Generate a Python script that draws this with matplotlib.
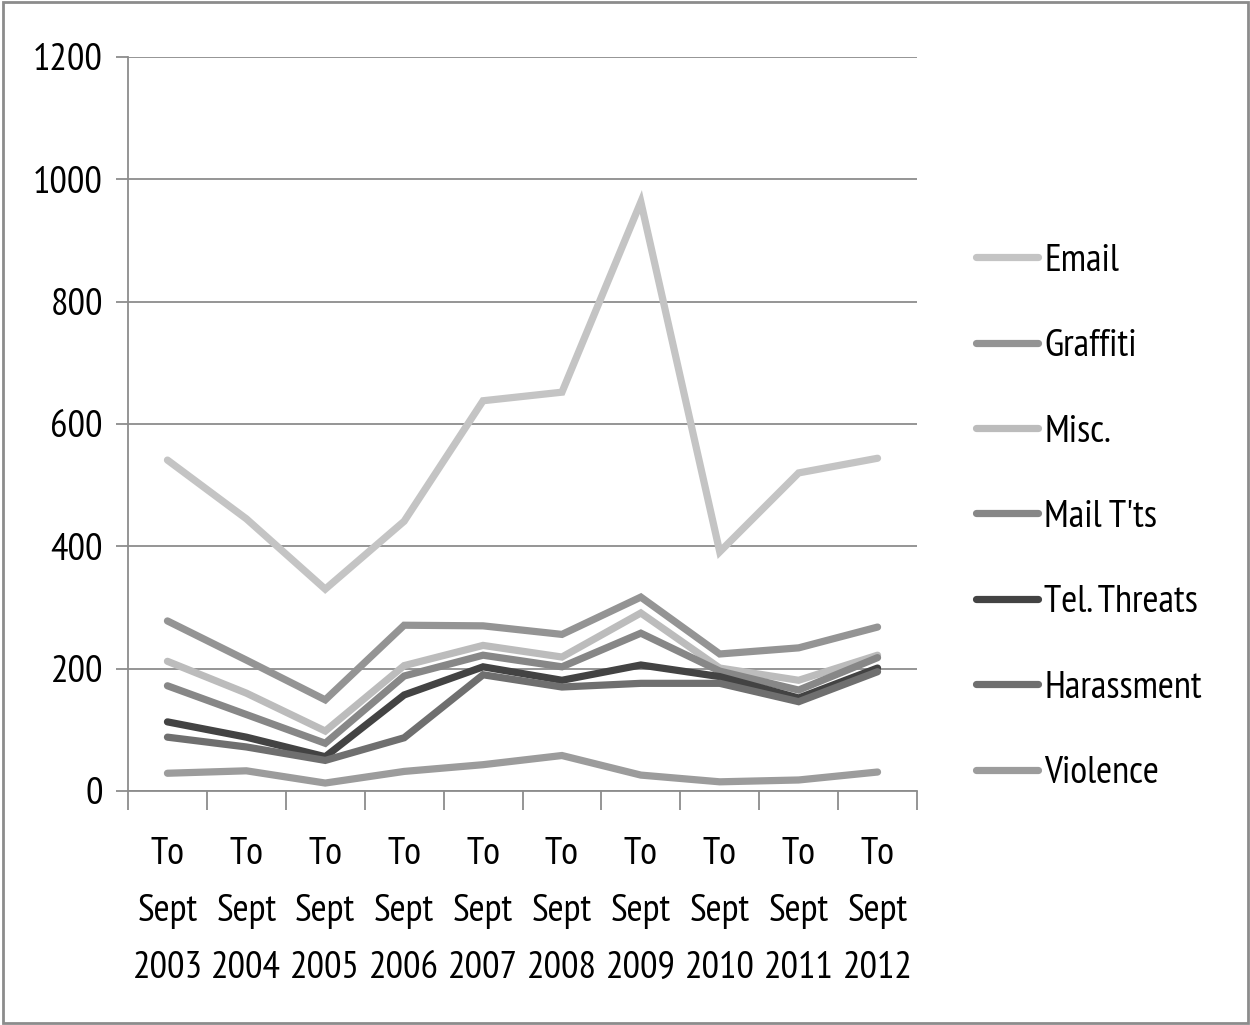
import matplotlib
matplotlib.use("Agg")
import matplotlib.pyplot as plt
import numpy as np
from matplotlib.patches import Rectangle

plt.rcParams['font.family'] = ['PT Sans Narrow', 'Carlito', 'Liberation Sans', 'DejaVu Sans']

categories = ["To\nSept\n2003", "To\nSept\n2004", "To\nSept\n2005", "To\nSept\n2006", "To\nSept\n2007",
              "To\nSept\n2008", "To\nSept\n2009", "To\nSept\n2010", "To\nSept\n2011", "To\nSept\n2012"]

email      = [541, 445, 330, 441, 638, 652, 963, 391, 520, 544]
graffiti   = [278, 214, 149, 271, 270, 256, 317, 224, 234, 268]
misc       = [212, 160, 98, 205, 238, 219, 291, 201, 181, 222]
mail_t     = [172, 125, 78, 188, 222, 203, 258, 196, 165, 218]
tel_threat = [113, 88, 56, 157, 203, 181, 206, 187, 152, 201]
harassment = [88, 72, 50, 87, 190, 170, 176, 176, 146, 195]
violence   = [29, 33, 13, 32, 43, 58, 26, 15, 18, 31]

series = [
    ("Email", email, "#c4c4c4"),
    ("Graffiti", graffiti, "#949494"),
    ("Misc.", misc, "#bcbcbc"),
    ("Mail T'ts", mail_t, "#878787"),
    ("Tel. Threats", tel_threat, "#434343"),
    ("Harassment", harassment, "#6f6f6f"),
    ("Violence", violence, "#9c9c9c"),
]

FS = 28

fig = plt.figure(figsize=(12.5, 10.25), dpi=100)
fig.patches.append(Rectangle((0.002, 0.002), 0.996, 0.996, transform=fig.transFigure,
                             fill=False, edgecolor="#8c8c8c", linewidth=2))
ax = fig.add_axes([0.1024, 0.2283, 0.6312, 0.7161])

x = np.arange(len(categories))
for name, vals, col in series:
    ax.plot(x, vals, color=col, linewidth=5.2, label=name, solid_capstyle='round',
            solid_joinstyle='miter')

ax.set_xlim(-0.5, len(categories) - 0.5)
ax.set_ylim(0, 1200)
ax.set_yticks([0, 200, 400, 600, 800, 1000, 1200])
ax.yaxis.grid(True, color="#8c8c8c", linewidth=1.3)
ax.set_axisbelow(True)

ax.set_xticks(x)
ax.set_xticklabels(categories, fontsize=FS, linespacing=1.81)
ax.set_xticks(np.arange(-0.5, len(categories)), minor=True)
ax.tick_params(axis='x', which='major', length=0, pad=33)
ax.tick_params(axis='x', which='minor', length=14, width=1.3, color="#8c8c8c")
ax.tick_params(axis='y', length=9, width=1.3, color="#8c8c8c", labelsize=FS, pad=9)

for s in ["top", "right"]:
    ax.spines[s].set_visible(False)
for s in ["left", "bottom"]:
    ax.spines[s].set_color("#8c8c8c")
    ax.spines[s].set_linewidth(1.3)

leg = ax.legend(loc="upper left", bbox_to_anchor=(1.055, 0.767), frameon=False,
                fontsize=FS, handlelength=1.6, handletextpad=0.15, labelspacing=1.29,
                borderaxespad=0)
for line in leg.get_lines():
    line.set_linewidth(5.2)
    line.set_solid_capstyle('round')

fig.savefig("out.png", dpi=100)
